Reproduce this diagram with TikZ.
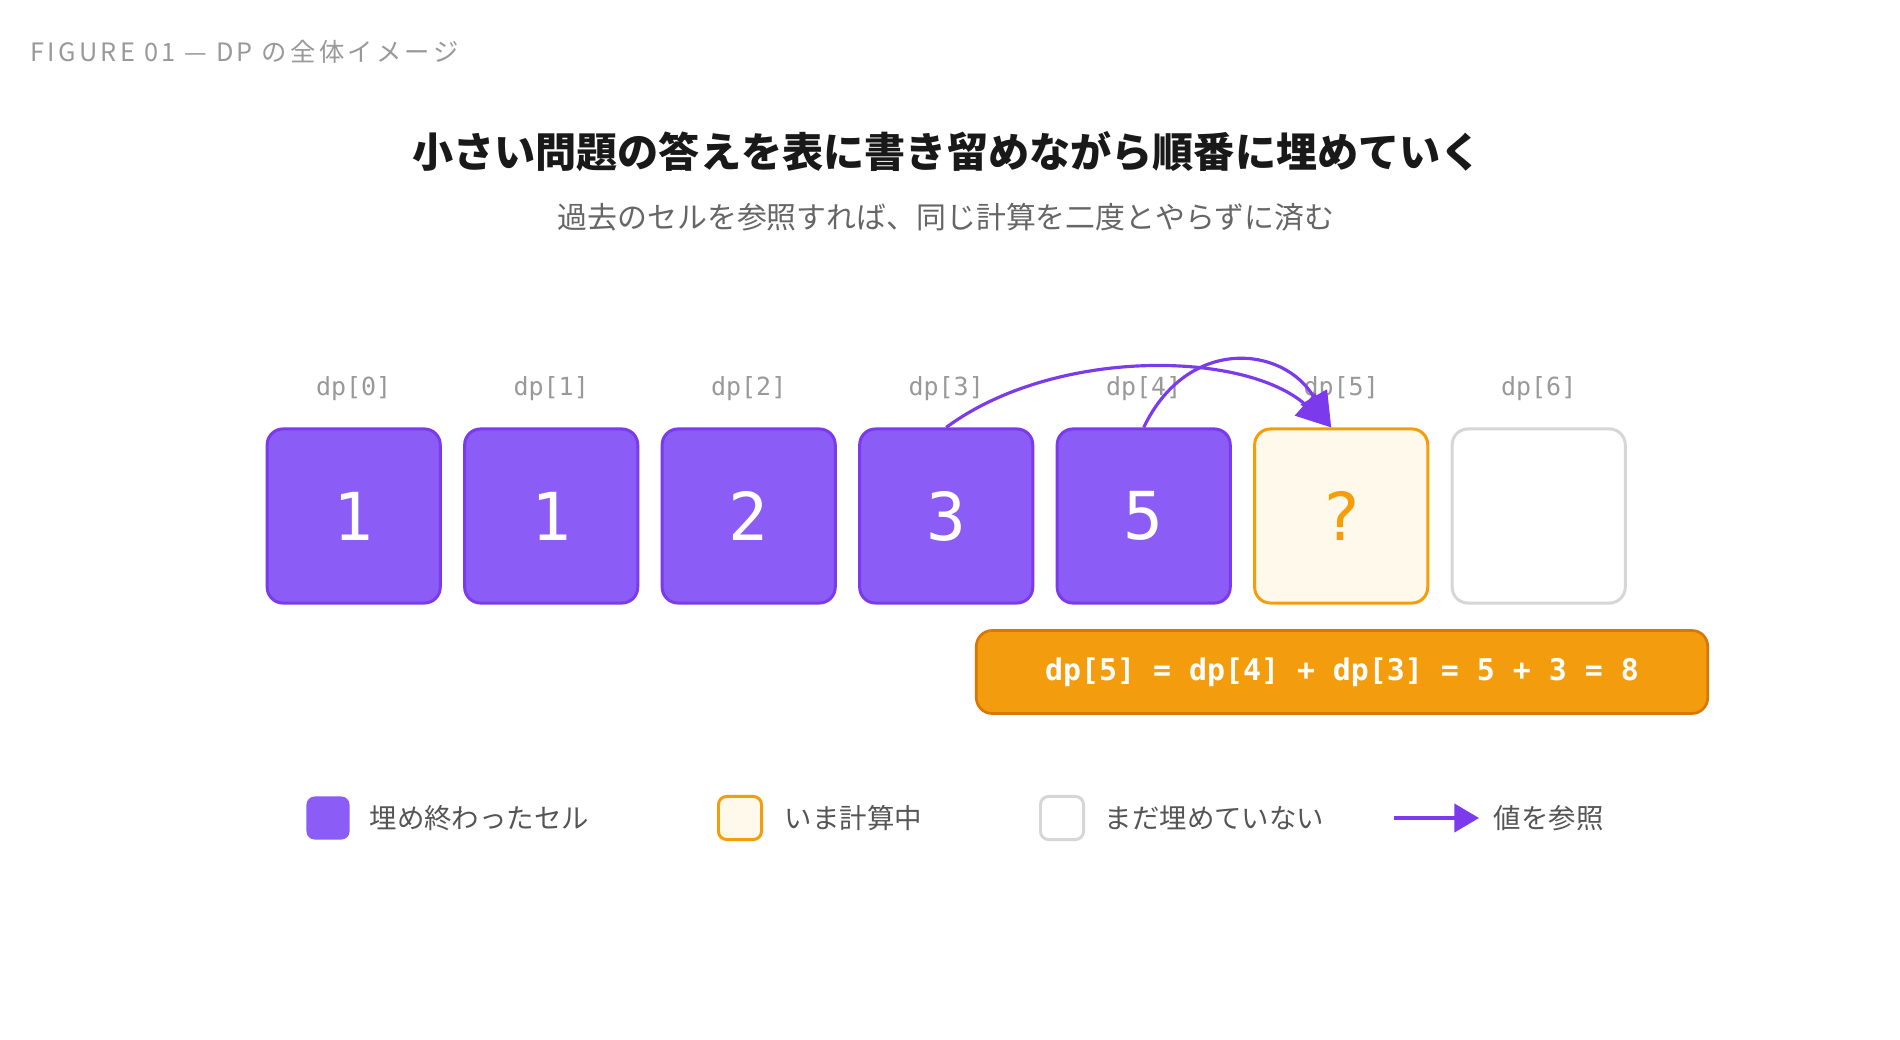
\documentclass[tikz,border=0pt]{standalone}
\usepackage{fontspec}
\setmainfont{Noto Sans CJK JP}
\newfontfamily\cellfnt{DejaVu Sans Mono}
\usetikzlibrary{positioning,arrows.meta}

\definecolor{donefill}{HTML}{8B5CF6}
\definecolor{doneline}{HTML}{7C3AED}
\definecolor{nowfill}{HTML}{FEF9EA}
\definecolor{nowline}{HTML}{F59E0B}
\definecolor{todoline}{HTML}{D6D6D6}
\definecolor{eqfill}{HTML}{F39C0E}
\definecolor{eqline}{HTML}{D97706}
\definecolor{idxgray}{HTML}{999999}
\definecolor{keygray}{HTML}{555555}
\definecolor{subgray}{HTML}{666666}

\tikzset{
  cell/.style={draw, rounded corners=4.5pt, minimum width=1.73cm, minimum height=1.74cm, line width=0.85pt, inner sep=0pt, font=\cellfnt\fontsize{18.8}{20}\selectfont},
  done/.style={cell, fill=donefill, draw=doneline, text=white},
  now/.style={cell, fill=nowfill, draw=nowline, text=nowline},
  todo/.style={cell, fill=white, draw=todoline},
  idx/.style={text=idxgray, font=\cellfnt\fontsize{7.1}{8}\selectfont},
  ref/.style={draw=doneline, line width=0.9pt, -{Triangle[length=10pt,width=8.5pt]}},
  keybox/.style={rounded corners=2.3pt, minimum width=0.43cm, minimum height=0.43cm, line width=0.85pt, inner sep=0pt},
  keytext/.style={anchor=west, inner sep=0pt, text=keygray, font=\fontsize{7.8}{9}\selectfont}
}

\begin{document}
\begin{tikzpicture}[x=0.01cm, y=-0.01cm]
  \fill[white] (0,0) rectangle (1900,1040);
  \useasboundingbox (0,0) rectangle (1900,1040);

  % header and titles
  \node[anchor=west, inner sep=0pt, text=idxgray, font=\fontsize{7.2}{8}\selectfont\addfontfeature{LetterSpace=13}] (head) at (30,52) {FIGURE 01 — DP の全体イメージ};
  \node[font=\fontsize{11.7}{14}\selectfont\bfseries, text=black!90] (title) at (947,152) {小さい問題の答えを表に書き留めながら順番に埋めていく};
  \node[font=\fontsize{8.5}{10}\selectfont, text=subgray] (sub) at (946,217) {過去のセルを参照すれば、同じ計算を二度とやらずに済む};

  % the table
  \node[done] (c0) at (353.7,516) {1};
  \node[done] (c1) at (551.2,516) {1};
  \node[done] (c2) at (748.7,516) {2};
  \node[done] (c3) at (946.2,516) {3};
  \node[done] (c4) at (1143.7,516) {5};
  \node[now]  (c5) at (1341.2,516) {?};
  \node[todo] (c6) at (1538.7,516) {};

  \node[idx] (i0) at (353.7,389) {dp[0]};
  \node[idx] (i1) at (551.2,389) {dp[1]};
  \node[idx] (i2) at (748.7,389) {dp[2]};
  \node[idx] (i3) at (946.2,389) {dp[3]};
  \node[idx] (i4) at (1143.7,389) {dp[4]};
  \node[idx] (i5) at (1341.2,389) {dp[5]};
  \node[idx] (i6) at (1538.7,389) {dp[6]};

  % references into dp[5]
  \draw[ref] (c3.north) .. controls +(108,-80) and +(-87,-77) .. ([xshift=-0.1cm]c5.north);
  \draw[ref] (c4.north) .. controls +(44,-92) and +(-47,-82) .. ([xshift=-0.1cm]c5.north);

  % formula
  \node[draw=eqline, fill=eqfill, line width=0.75pt, rounded corners=4.5pt, minimum width=7.31cm, minimum height=0.83cm, text=white, font=\cellfnt\bfseries\fontsize{8.5}{10}\selectfont] (eq) at (1342,672) {dp[5] = dp[4] + dp[3] = 5 + 3 = 8};

  % legend
  \node[keybox, fill=donefill] (kdone) at (328,818) {};
  \node[keytext] (tdone) at (369,818) {埋め終わったセル};
  \node[keybox, fill=nowfill, draw=nowline] (know) at (740,818) {};
  \node[keytext] (tnow) at (784,818) {いま計算中};
  \node[keybox, fill=white, draw=todoline] (ktodo) at (1062,818) {};
  \node[keytext] (ttodo) at (1104,818) {まだ埋めていない};
  \coordinate (karr) at (1394,818);
  \node[keytext] (tref) at (1493,818) {値を参照};
  \draw[ref, line width=1pt, -{Triangle[length=7pt,width=8pt]}] (karr) -- ([xshift=-0.14cm]tref.west);
\end{tikzpicture}
\end{document}
